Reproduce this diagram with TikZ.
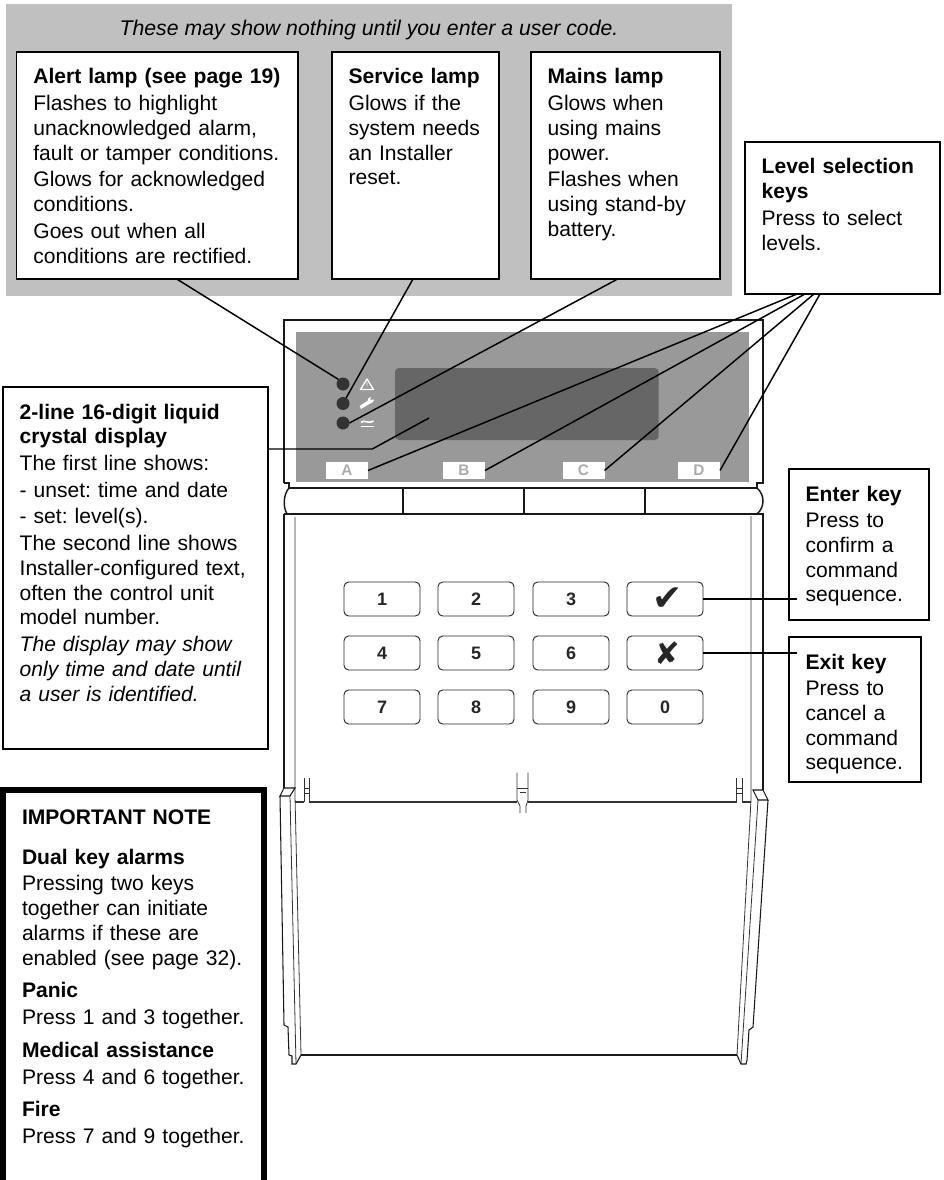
\documentclass[tikz,border=0pt]{standalone}
\usepackage{fontspec}
\setmainfont{Liberation Sans}
\newfontfamily\symfont{DejaVu Sans}
\newcommand{\boxfont}{\fontsize{15.8}{18.55}\selectfont\frenchspacing}
\definecolor{panelgrey}{HTML}{C0C0C0}
\definecolor{displaygrey}{HTML}{999999}
\definecolor{screengrey}{HTML}{666666}
\definecolor{lampgrey}{HTML}{333333}
\definecolor{lettergrey}{HTML}{ABABAB}
\tikzset{
  infobox/.style={draw=black,line width=1.1pt,fill=white,anchor=north west,outer sep=0pt,
    inner xsep=12.5pt,inner ysep=11pt,text height=13pt,align=left,font=\boxfont},
  notebox/.style={infobox,line width=4.5pt,inner xsep=14.25pt,inner ysep=12.5pt},
  leadline/.style={draw=black,line width=1.1pt},
  frameline/.style={draw=black!90,line width=1.1pt},
  thinline/.style={draw=black!80,line width=.6pt},
  lamp/.style={circle,fill=lampgrey,minimum size=9.75pt,inner sep=0pt,outer sep=0pt},
  levelkey/.style={fill=white,text=lettergrey,minimum width=31.5pt,minimum height=12.75pt,inner sep=0pt,
    outer sep=0pt,font=\fontsize{11.5}{12}\bfseries\selectfont},
  numkey/.style={draw=black!85,line width=.7pt,rounded corners=3.5pt,minimum width=57pt,minimum height=25.5pt,
    inner sep=0pt,outer sep=0pt,text=black!85,font=\fontsize{13.5}{14}\bfseries\selectfont},
}
\begin{document}
\begin{tikzpicture}[x=.75pt,y=-.75pt]
\useasboundingbox (0,0) rectangle (944,1180);

% grey panel and the lamp boxes
\fill[panelgrey] (6,4) rectangle (732,296);
\node[font=\fontsize{15.95}{18}\selectfont\itshape] (hint) at (369,30) {These may show nothing until you enter a user code.};
\node[infobox,text width=186pt,text depth=135.25pt] (alert) at (16.7,52)
  {\textbf{Alert lamp (see page 19)}\\[1.5pt]
   Flashes to highlight\\unacknowledged alarm,\\fault or tamper conditions.\\[1.5pt]
   Glows for acknowledged\\conditions.\\[1.5pt]
   Goes out when all\\conditions are rectified.};
\node[infobox,text width=100.25pt,text depth=135.25pt] (service) at (332,52)
  {\textbf{Service lamp}\\[1.5pt]Glows if the\\system needs\\an Installer\\reset.};
\node[infobox,text width=116.75pt,text depth=135.25pt] (mains) at (531,52)
  {\textbf{Mains lamp}\\[1.5pt]Glows when\\using mains\\power.\\[1.5pt]Flashes when\\using stand-by\\battery.};
\node[infobox,text width=121.25pt,text depth=79pt] (level) at (745,142)
  {\textbf{Level selection}\\\textbf{keys}\\[1.5pt]Press to select\\levels.};

% front of the unit
\fill[displaygrey] (296,332) rectangle (749,482);
\fill[screengrey,rounded corners=3pt] (395,368) rectangle (658.7,440);
\draw[frameline] (284,788) -- (284,514) (284,483) -- (284,320) -- (763,320) -- (763,483) -- (757,483) -- (757,488)
  -- (289,488) -- (289,483) -- (284,483);
\draw[frameline] (289,488) .. controls (283,495) and (283,507) .. (287,514);
\draw[frameline] (757,488) .. controls (765,495) and (765,507) .. (757,514);
\draw[frameline] (284,514) -- (763,514) -- (763,790);
\foreach \x in {403,524,645}
  \draw[frameline] (\x,488) -- (\x,514);

% flap
\draw[thinline] (295,517) -- (295,796) -- (301,1055);
\draw[thinline] (751,516) -- (751,800) -- (737,1055);
\draw[frameline] (301,1055) -- (737,1055);
\draw[thinline,line width=.8pt] (295,802) -- (304,802) (309.3,802) -- (517,802) (528,802) -- (736.7,802) (742.3,802) -- (751,802);
\foreach \x in {304,309.3,736.7,742.3}
  \draw[thinline] (\x,778) -- (\x,802);
\draw[thinline] (304,788) -- (309.3,788) (304,793) -- (309.3,793) (736.7,788) -- (742.3,788) (736.7,793) -- (742.3,793);
\draw[thinline] (517,772.7) -- (517,800) -- (520,806) -- (520,813) (528,772.7) -- (528,800) -- (526,806) -- (526,813);
\draw[thinline] (517,788) -- (528,788) (519.5,792) -- (525.5,792);
% left hinge
\draw[frameline,line width=.8pt] (284,788) -- (295,788) -- (290,796) -- (280,796) -- cycle;
\draw[frameline,line width=.8pt] (280,796) -- (284,1025) -- (288,1027) -- (289,1055) -- (292,1056) -- (292,1064) -- (296,1064) -- (301,1055);
\draw[thinline] (290,796) -- (296,1064);
% right hinge
\draw[frameline,line width=.8pt] (753,790) -- (763,790) -- (768,800) -- (758,800) -- cycle;
\draw[frameline,line width=.8pt] (768,800) -- (753,1027) -- (749,1030) -- (747,1060) -- (746,1064) -- (741,1064) -- (737,1055);
\draw[thinline] (758,800) -- (741,1064);

% lamps and their signs
\node[lamp] (lampalert) at (343,384) {};
\node[lamp] (lampservice) at (343,403.5) {};
\node[lamp] (lampmains) at (343,423) {};
\draw[white,line width=1pt,line join=round] (367,379) -- (373.5,389.5) -- (360.5,389.5) -- cycle;
\fill[white!80!black] (366.3,382) -- (367.7,382) -- (367.4,387) -- (366.6,387) -- cycle;
\fill[white] (359.5,406) -- (368,400.5) -- (368,398.5) -- (371,397) -- (370,400) -- (374,399.5) -- (373,402) -- (370,403.5) -- (361,409) -- cycle;
\draw[white,line width=1.2pt] (361,422.5) .. controls (364,419) and (367,424.5) .. (373.5,421);
\draw[white,line width=1.3pt] (361,426.5) -- (374,426.5);

% level keys
\foreach \k/\x in {A/347,B/464,C/583.5,D/699}
  \node[levelkey] (key\k) at (\x,470.5) {\k};

% number keys
\foreach \k/\x/\y/\s in {1/382/599/3,2/476/599/3,3/571/599/6,4/382/653/3,5/476/653/3,6/571/653/6,7/382/707/3,8/476/707/3,9/571/707/6,0/665/707/6.5}
  \node[numkey] (key\k) at (\x,\y) {\k\hspace{\s pt}};
\node[numkey,font=\fontsize{27}{28}\symfont] (keyok) at (665,599) {\hspace*{4pt}✔};
\node[numkey,font=\fontsize{23}{24}\symfont] (keyno) at (665,653) {\hspace*{3pt}✘};

% boxes at the sides
\node[infobox,text width=173.75pt,text depth=236.5pt] (lcd) at (3,387)
  {\textbf{2-line 16-digit liquid}\\\textbf{crystal display}\\[1.5pt]
   The first line shows:\\[1.5pt]- unset: time and date\\[1.5pt]- set: level(s).\\[1.5pt]
   The second line shows\\Installer-configured text,\\often the control unit\\model number.\\[1.5pt]
   \textit{The display may show}\\\textit{only time and date until}\\\textit{a user is identified.}};
\node[infobox,text width=80pt,text depth=78.25pt] (enter) at (789,469)
  {\textbf{Enter key}\\[1.5pt]Press to\\confirm a\\command\\sequence.};
\node[infobox,text width=74pt,text depth=73.75pt] (exit) at (789,637)
  {\textbf{Exit key}\\[1.5pt]Press to\\cancel a\\command\\sequence.};
\node[notebox,text width=167.25pt,text depth=265pt] (note) at (3,790)
  {\textbf{IMPORTANT NOTE}\\[11.6pt]
   \textbf{Dual key alarms}\\[1.5pt]Pressing two keys\\together can initiate\\alarms if these are\\enabled (see page 32).\\[6pt]
   \textbf{Panic}\\[1.5pt]Press 1 and 3 together.\\[6pt]
   \textbf{Medical assistance}\\[1.5pt]Press 4 and 6 together.\\[6pt]
   \textbf{Fire}\\[1.5pt]Press 7 and 9 together.};

% leader lines
\coordinate (screenend) at (429,418);
\coordinate (screenbend) at (372.3,449);
\draw[leadline] ([xshift=120pt]alert.south west) -- (lampalert.135);
\draw[leadline] ([xshift=60.75pt]service.south west) -- (lampservice);
\draw[leadline] ([xshift=65pt]mains.south west) -- (lampmains.east);
\draw[leadline] (lcd.east |- screenbend) -- (screenbend) -- (screenend);
\draw[leadline] ([xshift=39pt]level.south west) -- (keyA.east);
\draw[leadline] ([xshift=45pt]level.south west) -- (keyB.east);
\draw[leadline] ([xshift=51.75pt]level.south west) -- (keyC.east);
\draw[leadline] ([xshift=56.25pt]level.south west) -- (keyD.east);
\draw[leadline] (keyok.east) -- ([xshift=6pt]enter.west |- keyok.east);
\draw[leadline] (keyno.east) -- ([xshift=6pt]exit.west |- keyno.east);
\end{tikzpicture}
\end{document}
